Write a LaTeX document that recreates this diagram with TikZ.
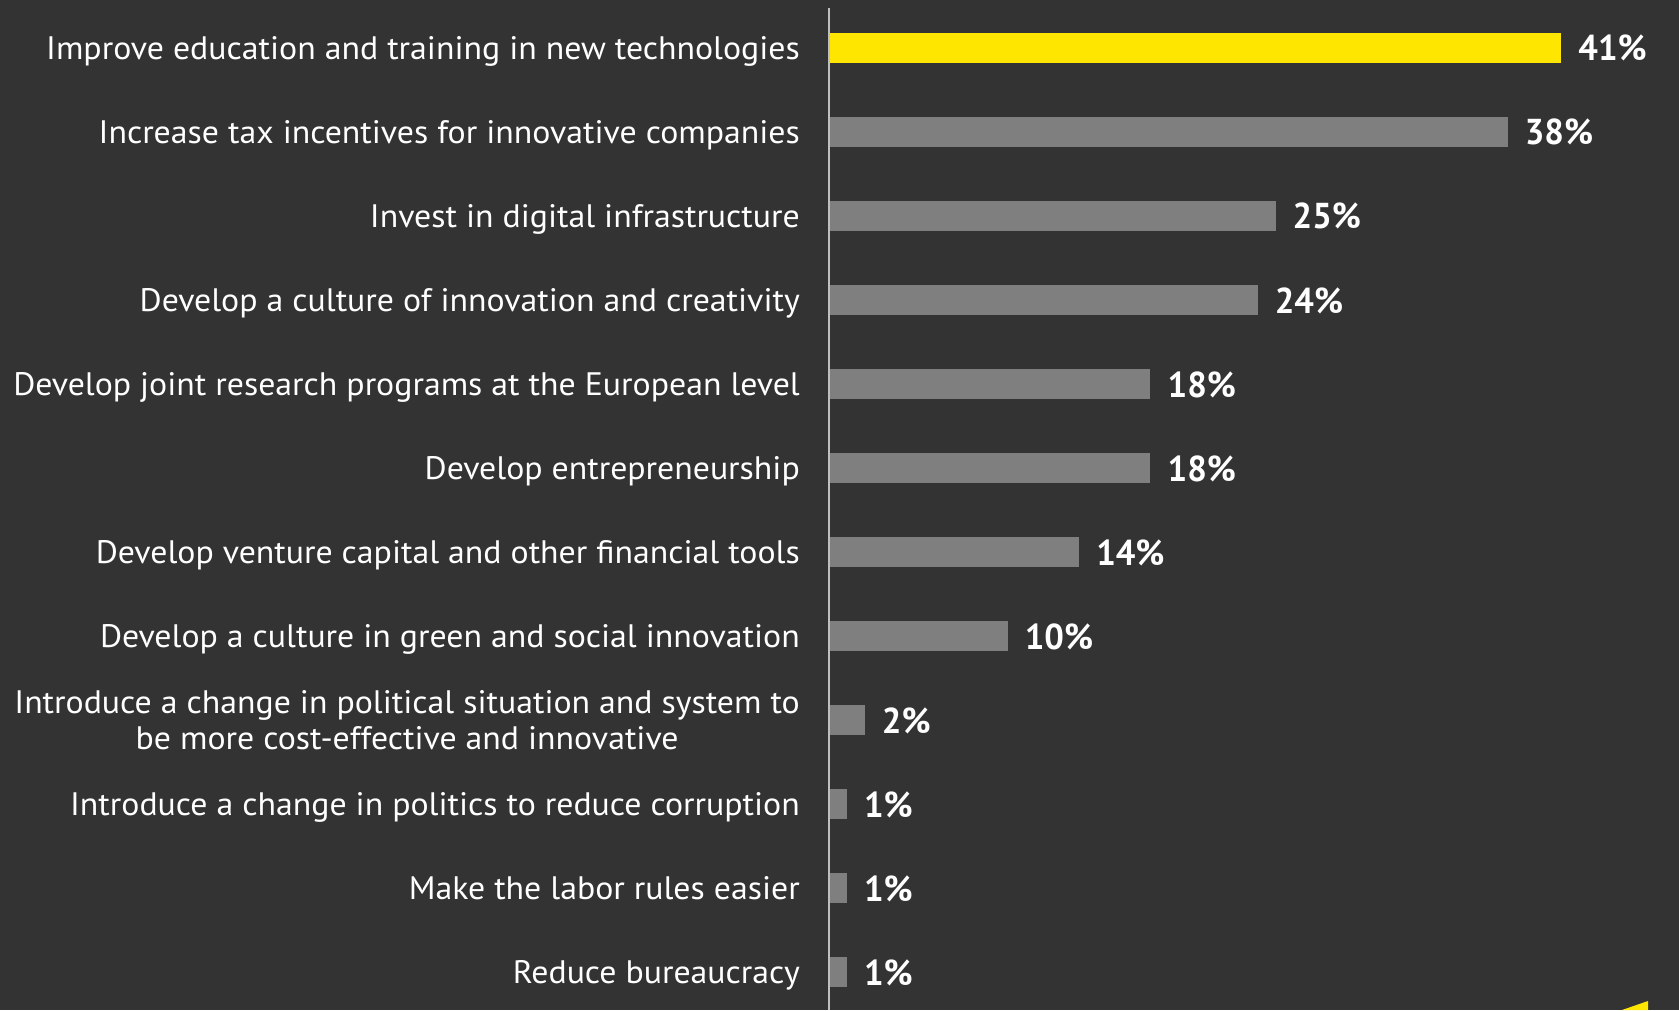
\documentclass[tikz,border=0pt]{standalone}
\usepackage{fontspec}
\setmainfont{PT Sans}[FakeStretch=1.04]
\newfontfamily\valfont{PT Sans}[FakeStretch=0.96]
\definecolor{bg}{HTML}{333333}
\definecolor{bargrey}{HTML}{7F7F7F}
\definecolor{eyyellow}{HTML}{FFE600}
\definecolor{axiscol}{HTML}{BFBFBF}
\begin{document}
\begin{tikzpicture}[x=1pt,y=-1pt,
  lab/.style={anchor=base east,inner sep=0pt,text=white,font=\fontsize{32.5}{36}\selectfont},
  lab2/.style={anchor=east,inner sep=0pt,text=white,align=center,font=\fontsize{32.5}{36.5}\selectfont},
  val/.style={anchor=base west,inner sep=0pt,text=white,font=\valfont\bfseries\fontsize{36}{40}\selectfont},
  axisline/.style={draw=axiscol,line width=2pt}]
\fill[bg] (0,0) rectangle (1679,1010);
\foreach \i/\p/\t in {1/41/{Improve education and training in new technologies},
  2/38/{Increase tax incentives for innovative companies},
  3/25/{Invest in digital infrastructure},
  4/24/{Develop a culture of innovation and creativity},
  5/18/{Develop joint research programs at the European level},
  6/18/{Develop entrepreneurship},
  7/14/{Develop venture capital and other financial tools},
  8/10/{Develop a culture in green and social innovation},
  9/2/{},
  10/1/{Introduce a change in politics to reduce corruption},
  11/1/{Make the labor rules easier},
  12/1/{Reduce bureaucracy}}{
  \pgfmathsetmacro\yc{48+84*(\i-1)}
  \pgfmathsetmacro\xe{829+17.86*\p}
  \ifnum\i=1 \def\bc{eyyellow}\else\def\bc{bargrey}\fi
  \fill[\bc] (829,\yc-15) rectangle (\xe,\yc+15);
  \ifnum\i=9 \else \node[lab] (lab\i) at (800,\yc+11.5) {\t};\fi
  \node[val] (val\i) at (\xe+17,\yc+13) {\p\%};
}
\node[lab2] (lab9) at (800,720) {Introduce a change in political situation and system to\\be more cost-effective and innovative};
\coordinate (axtop) at (829,8);
\coordinate (axbot) at (829,1010);
\draw[axisline] (axtop) -- (axbot);
\fill[eyyellow] (1622,1010) -- (1648,1001) -- (1648,1010) -- cycle;
\end{tikzpicture}
\end{document}
